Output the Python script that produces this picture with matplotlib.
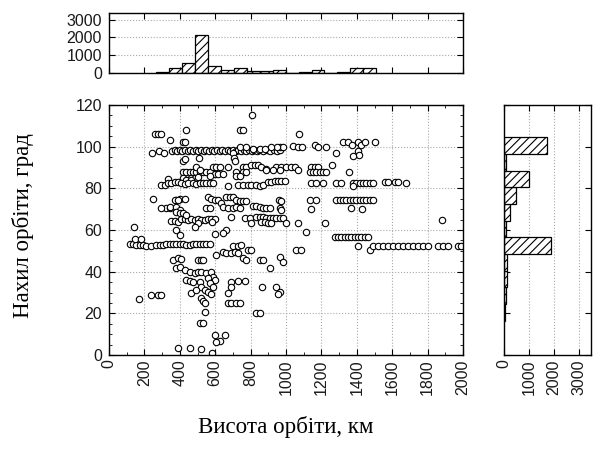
import matplotlib
matplotlib.use('Agg')
import matplotlib.pyplot as plt
from matplotlib.ticker import MultipleLocator

# ---------------- data ----------------
altitude_km = [
    805, 740, 755, 435, 260, 275, 295, 1075, 345, 418, 430,
    1320, 1350, 1375, 1405, 1425, 1445, 1500, 1405, 1410, 1378, 1280,
    355, 370, 385, 400, 415, 430, 445, 460, 475, 490, 505, 520, 535, 550, 565, 580, 595, 610, 625,
    640, 655, 670, 685, 700, 715, 730, 745, 760, 775, 790, 805, 820, 835, 850, 870, 890, 910, 930, 950, 965,
    245, 285, 310, 965, 985, 1040, 1068, 1092, 1162, 1180, 1228, 950, 917, 738, 776, 813, 851, 880,
    700, 705, 710, 418, 427, 508,
    418, 437, 456, 475, 493, 512, 531, 550, 572,
    588, 606, 625, 672, 757, 776, 804, 823, 842, 861, 885,
    945, 974, 1002, 1030, 1049, 1068, 1143, 1162, 1181, 1262, 493, 512,
    719, 757, 776, 889, 926, 964, 1134, 1152, 1171, 1190, 1209, 1228, 1356, 719, 738, 597, 616, 644,
    465, 484, 503, 418, 437, 465, 569, 333,
    296, 314, 333, 352, 371, 390, 409, 427, 446, 475, 493, 512, 531, 550, 569, 588,
    672, 729, 757, 785, 804, 832, 851, 870,
    898, 917, 936, 955, 974, 993,
    1143, 1171, 1209, 1284, 1312,
    1378, 1397, 1416, 1435, 1453, 1472, 1491,
    1557, 1576, 1614, 1633, 1680, 1378,
    249, 380, 399, 427, 559, 578, 597, 616, 635,
    663, 682, 700, 719, 738, 757, 776, 960, 974, 1134, 1171,
    1284, 1303, 1322, 1341, 1359, 1378, 1397, 1416, 1435, 1453, 1472, 1491,
    371, 390,
    320, 343, 550, 569, 644, 672, 700, 719, 738,
    813, 832, 851, 870, 889, 908, 964, 974, 1139, 1369, 1431,
    296, 343, 377, 399,
    352, 371, 390, 409, 427, 446, 465, 484, 503, 522, 540, 559, 578, 597,
    380, 399, 418, 437, 503, 484, 584, 691, 766, 795,
    832, 851, 870, 889, 908, 926, 945, 964, 983,
    860, 879, 898, 917, 804, 1002, 1068, 1218, 1883, 1115,
    597, 663, 644, 380, 399,
    117, 136, 154, 173, 192, 211, 239, 267, 286, 305, 324, 343, 362, 380, 399, 418, 437, 456, 475, 493,
    512, 531, 550, 569,
    145, 183, 141, 169,
    700, 729, 748, 785, 804, 1058, 1086,
    1275, 1294, 1313, 1332, 1350, 1369, 1388, 1407, 1426, 1444, 1463,
    1407, 1472,
    1491, 1519, 1548, 1576, 1604, 1632, 1661, 1689, 1717, 1746, 1774, 1802, 1859, 1887, 1915, 1972, 1990,
    362, 390, 409, 503, 522, 531, 606, 644, 663, 691, 710, 729, 757, 776, 851, 870, 964, 983, 911,
    380, 399, 427,
    456, 484, 503, 522, 550, 578, 588, 597,
    437, 456, 475, 512, 559, 569, 588,
    522, 540, 559, 578, 465, 493,
    691, 691, 729, 766, 672, 866, 945, 964, 955,
    239, 277, 296, 522, 531, 540, 672, 691, 719, 738,
    540, 832, 851, 512, 531, 597, 625, 606, 653, 390, 456, 522, 584,
]
inclination_deg = [
    115, 108, 108, 108, 106, 106, 106, 106, 103, 102, 102,
    102, 102, 101, 102, 101, 102, 102, 98, 96, 95.5, 97,
    98, 98.5, 98, 98.5, 98, 98.5, 98, 98.5, 98, 98.5, 98, 98.5, 98, 98.5, 98, 98.5, 98, 98.5, 98,
    98.5, 98, 98.5, 98, 98.5, 98, 98.5, 98, 98.5, 98, 98.5, 98, 98.5, 98, 98.5, 98, 98.5, 98, 98.5, 98, 98.5,
    97, 98, 97, 100, 100, 100.5, 100, 100, 101, 100, 100, 100, 100, 100, 100, 99, 99, 99,
    97, 94.5, 93, 93, 94, 94.4,
    87.7, 87.7, 87.7, 87.7, 87.7, 87.7, 87.7, 87.7, 87.7,
    90, 90, 90, 90, 90, 90, 91, 91, 91, 90, 89.5,
    90, 90, 90, 90.4, 90, 89, 90, 90, 90, 91, 90, 89,
    88, 88, 88, 89, 89, 89, 88, 88, 88, 88, 88, 88, 88, 86, 86, 87, 87, 87,
    85, 85, 85.3, 85, 84, 84, 86, 84.3,
    81.6, 81.6, 82.7, 82.7, 83.2, 83.2, 82.5, 82, 82.5, 82.5, 82, 82.5, 82.5, 82.5, 82.5, 82.5,
    81, 81.6, 81.6, 81.6, 81.5, 81.5, 81, 81.5,
    83, 83, 83.5, 83.5, 83.5, 83.5,
    82.5, 82.5, 82.5, 82.5, 82.5,
    82.5, 82.5, 82.5, 82.5, 82.5, 82.5, 82.5,
    83, 83, 83, 83, 82.5, 81,
    75, 74.4, 75, 75, 76, 75, 74.4, 74.4, 72.8,
    76, 75.7, 75.7, 74.4, 74, 74, 74, 74.4, 74, 74.4, 74.4,
    74.4, 74.4, 74.4, 74.4, 74.4, 74.4, 74.4, 74.4, 74.4, 74.4, 74.4, 74.4,
    74.4, 74.4,
    70.4, 70.4, 70.4, 70.4, 71, 70.4, 70.4, 71.2, 70.4,
    71.5, 71.5, 71.2, 70.4, 70.4, 70.4, 70.4, 69.6, 70, 70.4, 70,
    70.4, 71.2, 71.2, 69.6,
    64.5, 64.5, 64, 65.5, 65.5, 64.8, 65.5, 64.8, 65.5, 64.8, 64.8, 65.5, 65.5, 65.5,
    68.8, 68, 68, 67.2, 63.2, 61.6, 64, 66.4, 65.6, 65.6,
    66.4, 66.4, 66.4, 65.6, 65.6, 65.6, 65.6, 65.6, 65.6,
    64, 64, 63.5, 63.5, 63.5, 63.5, 63.5, 63.5, 64.8, 59.2,
    58, 60, 58.7, 60, 57.6,
    53.3, 53.3, 52.8, 52.8, 52.8, 52.3, 52.3, 52.8, 52.8, 52.8, 53.3, 53.3, 53.3, 53.3, 53.3, 53.3, 52.8,
    52.8, 53.3, 53.3,
    53.3, 53.3, 53.3, 53.3,
    55.5, 55.5, 61.6, 26.7,
    52.3, 52.3, 52.8, 50.4, 50.4, 50.4, 50.4,
    56.8, 56.8, 56.8, 56.8, 56.8, 56.8, 56.8, 56.8, 56.8, 56.8, 56.8,
    52.3, 50.4,
    52.3, 52.3, 52.3, 52.3, 52.3, 52.3, 52.3, 52.3, 52.3, 52.3, 52.3, 52.3, 52.3, 52.3, 52.3, 52.3, 52.3,
    45.6, 46.4, 45.9, 45.6, 45.6, 45.6, 48, 49.6, 48.8, 48.8, 49.6, 48.8, 46.4, 45.6, 45.6, 45.6, 47.2, 44.8, 41.6,
    41.6, 42.4, 40.8,
    40, 39.2, 40, 40, 39.5, 40, 37.6, 36,
    36, 35.7, 35.2, 35.2, 36.8, 34.4, 32.8,
    32.8, 31.2, 30.4, 29.2, 29.6, 31.2,
    35.2, 32.8, 35.5, 35.5, 29.6, 32.5, 32.5, 30.4, 29.3,
    28.8, 28.8, 28.8, 27.2, 26, 24.8, 24.8, 25, 25, 25,
    20.8, 20.3, 20.3, 15.5, 15.5, 9.6, 6.9, 6.4, 9.6, 3.2, 3.2, 2.7, 0.8,
]

# altitude histogram (top): bin left edges (km), bin width, counts
alt_bin_left = [268, 341, 414, 487, 560, 633, 706, 779, 852, 925, 998,
                1071, 1144, 1217, 1290, 1363, 1436]
alt_bin_width = 73
alt_counts = [40, 240, 560, 2160, 400, 160, 240, 100, 100, 180, 0,
              40, 180, 0, 40, 260, 260]

# inclination histogram (right): bin lower edges (deg), bin height, counts
inc_bin_low = [16.5, 24.5, 32.5, 40.5, 48.5, 56.5, 64.5, 72.5, 80.5, 88.5, 96.5]
inc_bin_height = 8
inc_counts = [25, 70, 107, 107, 1875, 95, 255, 470, 990, 80, 1713]

x_ticks = list(range(0, 2001, 200))
y_ticks = list(range(0, 121, 20))
count_ticks = [0, 1000, 2000, 3000]

xlabel = 'Висота орбіти, км'
ylabel = 'Нахил орбіти, град'

# ---------------- drawing ----------------
tick_font = 'Liberation Sans'
tick_size = 11.5
tick_color = '#1a1a1a'
label_font = 'Liberation Serif'
plt.rcParams['hatch.linewidth'] = 0.8

fig = plt.figure(figsize=(5.96, 4.5), dpi=100)
ax = fig.add_axes([0.1829, 0.2111, 0.5940, 0.5556])
axt = fig.add_axes([0.1829, 0.8384, 0.5940, 0.1333])
axr = fig.add_axes([0.8456, 0.2111, 0.1455, 0.5556])

grid_kw = dict(color='#a8a8a8', linestyle=':', linewidth=0.8)


def style(a):
    for s in a.spines.values():
        s.set_linewidth(1.0)
        s.set_color('black')
    a.tick_params(which='both', direction='in', top=True, right=True,
                  colors='black', labelcolor=tick_color, labelsize=tick_size)
    a.tick_params(which='major', length=4, width=0.8)
    a.tick_params(which='minor', length=2, width=0.6)
    a.set_axisbelow(True)


# main scatter
ax.plot(altitude_km, inclination_deg, linestyle='none', marker='o',
        markersize=4.6, markerfacecolor='white', markeredgecolor='black',
        markeredgewidth=0.8, clip_on=True)
ax.set_xlim(0, 2000)
ax.set_ylim(0, 120)
ax.set_xticks(x_ticks)
ax.set_yticks(y_ticks)
ax.xaxis.set_minor_locator(MultipleLocator(100))
ax.yaxis.set_minor_locator(MultipleLocator(5))
style(ax)
ax.grid(True, which='major', **grid_kw)
ax.set_xticklabels([str(v) for v in x_ticks], rotation=90, fontfamily=tick_font)
ax.set_yticklabels([str(v) for v in y_ticks], fontfamily=tick_font)
ax.tick_params(axis='x', pad=3)
ax.tick_params(axis='y', pad=5)

# top histogram
axt.bar(alt_bin_left, alt_counts, width=alt_bin_width, align='edge',
        facecolor='white', edgecolor='black', linewidth=0.9, hatch='////')
axt.set_xlim(0, 2000)
axt.set_ylim(0, 3400)
axt.set_xticks(x_ticks)
axt.set_xticklabels([])
axt.set_yticks(count_ticks)
axt.set_yticklabels([str(v) for v in count_ticks], fontfamily=tick_font)
style(axt)
axt.grid(True, axis='y', **grid_kw)
axt.tick_params(axis='y', pad=5)

# right histogram
axr.barh(inc_bin_low, inc_counts, height=inc_bin_height, align='edge',
         facecolor='white', edgecolor='black', linewidth=0.9, hatch='////')
axr.set_xlim(0, 3450)
axr.set_ylim(0, 120)
axr.set_yticks(y_ticks)
axr.set_yticklabels([])
axr.set_xticks(count_ticks)
axr.set_xticklabels([str(v) for v in count_ticks], rotation=90, fontfamily=tick_font)
style(axr)
axr.grid(True, axis='x', **grid_kw)
axr.tick_params(axis='x', pad=3)

fig.text(0.48, 0.051, xlabel, ha='center', va='center',
         fontfamily=label_font, fontsize=16.5)
fig.text(0.039, 0.498, ylabel, ha='center', va='center', rotation=90,
         fontfamily=label_font, fontsize=16.5)

fig.savefig('out.png', dpi=100)
